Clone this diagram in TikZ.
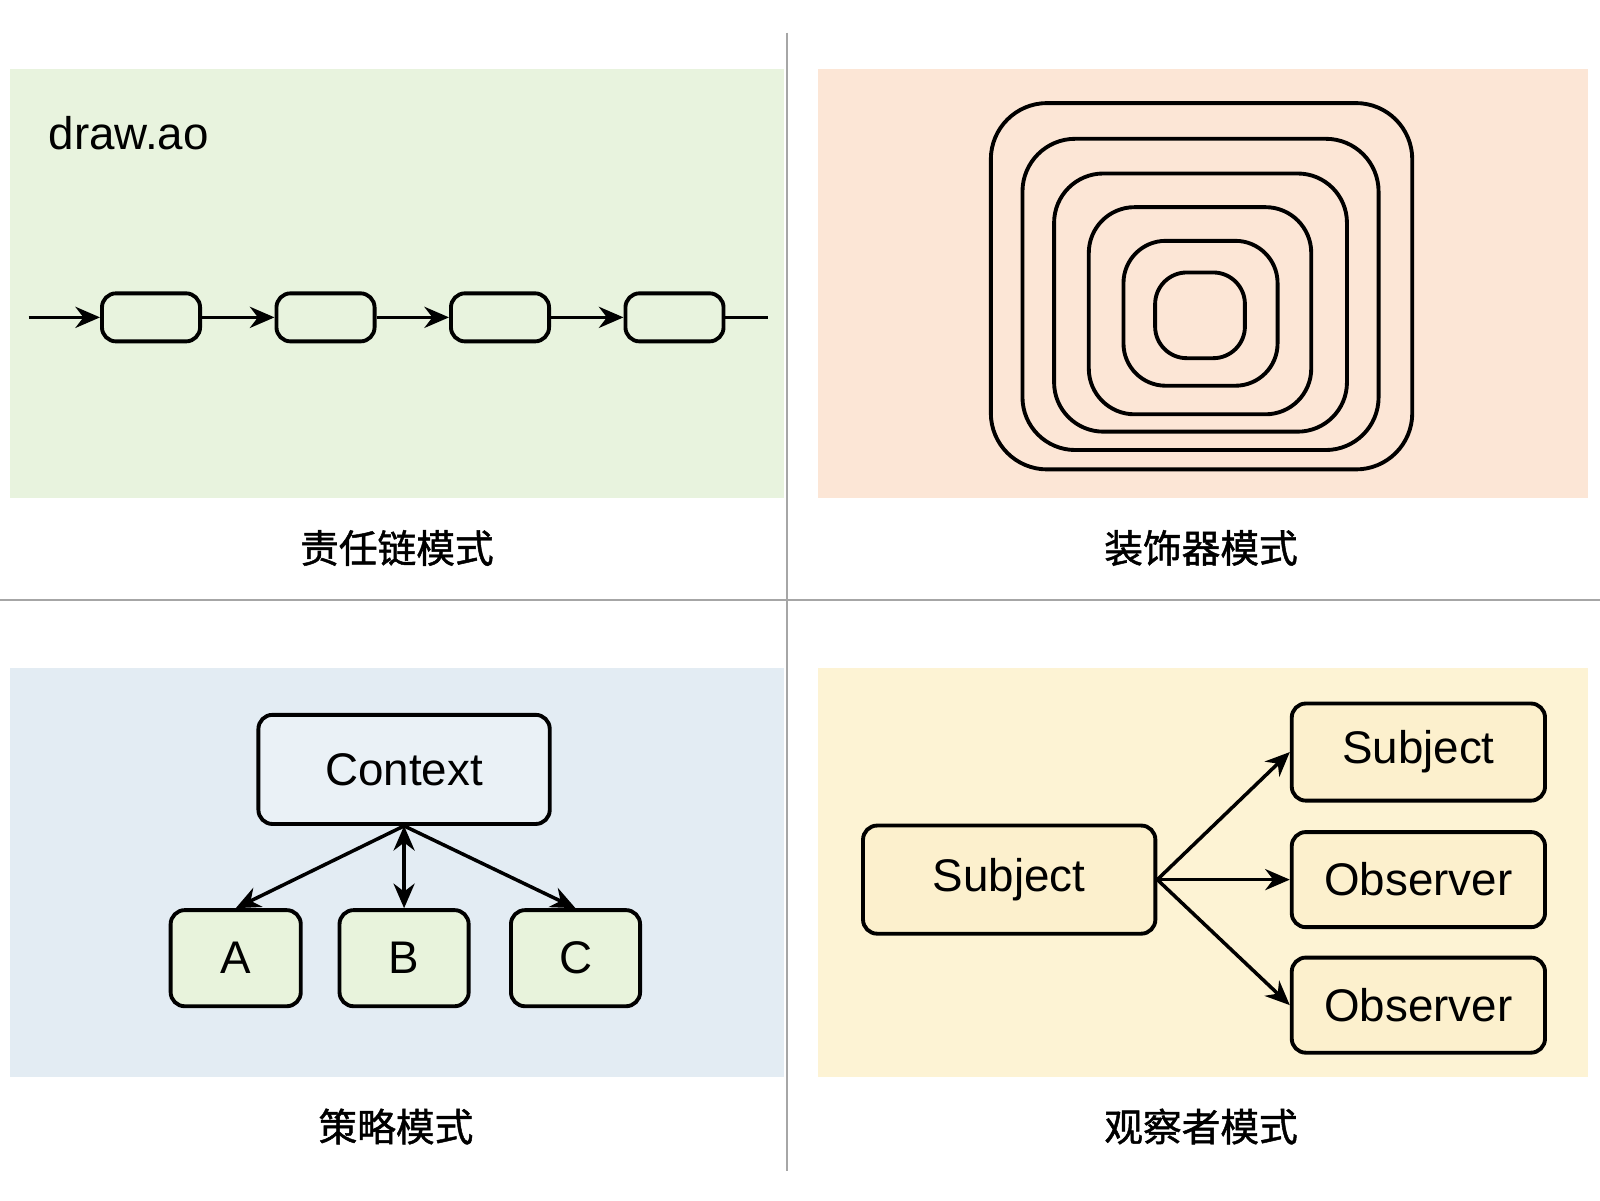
\documentclass[tikz,border=0pt]{standalone}
\usepackage{fontspec}
\setmainfont{Liberation Sans}
\newfontfamily\cjk[FakeBold=1.2]{Noto Sans CJK SC}
\usetikzlibrary{arrows.meta}
\begin{document}
\begin{tikzpicture}[x=0.0102cm,y=-0.0102cm,
  box/.style={draw=black,line width=1.1pt,rounded corners=4pt},
  arr/.style={line width=1pt,-{Stealth[length=7pt,width=6pt]}},
  lbl/.style={font=\cjk\fontsize{11}{13}\selectfont},
  txt/.style={font=\fontsize{13}{15}\selectfont}]
\useasboundingbox (0,0) rectangle (1568,1176);
\fill[white] (0,0) rectangle (1568,1176);
\draw[gray!70,line width=0.6pt] (771,32) -- (771,1148);
\draw[gray!70,line width=0.6pt] (0,588) -- (1568,588);
% panels
\fill[fill={rgb,255:red,232;green,243;blue,222}] (10,68) rectangle (768,488);
\fill[fill={rgb,255:red,252;green,230;blue,214}] (802,68) rectangle (1556,488);
\fill[fill={rgb,255:red,227;green,236;blue,243}] (10,655) rectangle (768,1055);
\fill[fill={rgb,255:red,253;green,243;blue,212}] (802,655) rectangle (1556,1055);
% TL
\node[txt,anchor=west,inner sep=0] (logo) at (47,130) {draw.ao};
\coordinate (s) at (28,311);
\coordinate (e) at (753,311);
\node[box,minimum width=0.98cm,minimum height=0.48cm,inner sep=0] (c1) at (148,311) {};
\node[box,minimum width=0.98cm,minimum height=0.48cm,inner sep=0] (c2) at (319,311) {};
\node[box,minimum width=0.98cm,minimum height=0.48cm,inner sep=0] (c3) at (490,311) {};
\node[box,minimum width=0.98cm,minimum height=0.48cm,inner sep=0] (c4) at (661,311) {};
\draw[arr] (s) -- (c1);
\draw[arr] (c1) -- (c2);
\draw[arr] (c2) -- (c3);
\draw[arr] (c3) -- (c4);
\draw[line width=1pt] (c4) -- (e);
\node[lbl] (l1) at (389,537) {责任链模式};
% TR
\draw[line width=1.1pt,rounded corners=16pt] (971,101) rectangle (1384,460);
\draw[line width=1.1pt,rounded corners=15pt] (1002,136) rectangle (1351,441);
\draw[line width=1.1pt,rounded corners=14pt] (1033,170) rectangle (1320,423);
\draw[line width=1.1pt,rounded corners=13pt] (1067,203) rectangle (1285,406);
\draw[line width=1.1pt,rounded corners=12pt] (1101,236) rectangle (1252,378);
\draw[line width=1.1pt,rounded corners=9pt] (1132,267) rectangle (1220,351);
\node[lbl] (l2) at (1177,537) {装饰器模式};
% BL
\tikzset{gbox/.style={box,fill={rgb,255:red,232;green,243;blue,220},inner sep=0,txt}}
\node[box,fill={rgb,255:red,234;green,241;blue,246},inner sep=0,txt,minimum width=2.91cm,minimum height=1.09cm] (ctx) at (396,754) {Context};
\node[gbox,minimum width=1.3cm,minimum height=0.96cm] (A) at (231,939) {A};
\node[gbox,minimum width=1.29cm,minimum height=0.96cm] (B) at (396,939) {B};
\node[gbox,minimum width=1.29cm,minimum height=0.96cm] (C) at (564,939) {C};
\draw[arr] (ctx.south) -- (A.north);
\draw[arr,{Stealth[length=7pt,width=6pt]}-{Stealth[length=7pt,width=6pt]}] (ctx.south) -- (B.north);
\draw[arr] (ctx.south) -- (C.north);
\node[lbl] (l3) at (388,1104) {策略模式};
% BR
\tikzset{ybox/.style={box,fill={rgb,255:red,252;green,240;blue,205},inner sep=0,txt}}
\node[ybox,minimum width=2.92cm,minimum height=1.08cm] (sub) at (989,862) {Subject};
\node[ybox,minimum width=2.53cm,minimum height=0.97cm] (o1) at (1390,737) {Subject};
\node[ybox,minimum width=2.53cm,minimum height=0.95cm] (o2) at (1390,862) {Observer};
\node[ybox,minimum width=2.53cm,minimum height=0.95cm] (o3) at (1390,985) {Observer};
\draw[arr] (sub.east) -- (o1.west);
\draw[arr] (sub.east) -- (o2.west);
\draw[arr] (sub.east) -- (o3.west);
\node[lbl] (l4) at (1177,1104) {观察者模式};
\end{tikzpicture}
\end{document}
